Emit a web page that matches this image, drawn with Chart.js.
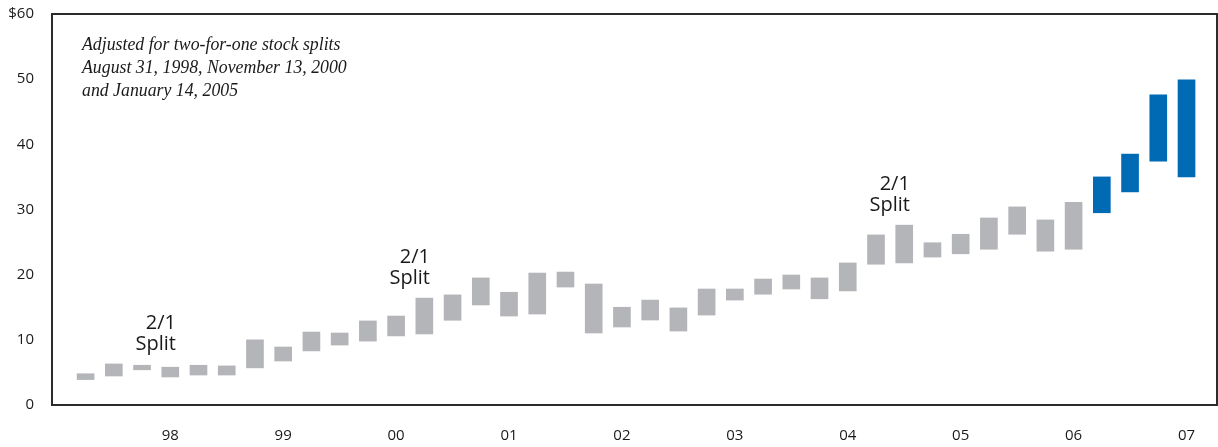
<!DOCTYPE html>
<html>
<head>
<meta charset="utf-8">
<script src="https://cdn.jsdelivr.net/npm/chart.js@4/dist/chart.umd.min.js"></script>
<style>
  html, body { margin: 0; padding: 0; background: #fff; }
  #wrap { width: 1218px; height: 447px; }
</style>
</head>
<body>
<div id="wrap"><canvas id="stock-chart"></canvas></div>
<script>
// Fiscal years, four quarterly price ranges each
const years = ['98', '99', '00', '01', '02', '03', '04', '05', '06', '07'];

// Quarterly low / high stock price ($)
const lows = [
    3.9, 4.45, 5.4, 4.3,
    4.6, 4.6, 5.7, 6.75,
    8.3, 9.2, 9.8, 10.6,
    10.9, 13.0, 15.35, 13.65,
    13.96, 18.1, 11.05, 11.97,
    13.04, 11.35, 13.8, 16.1,
    17.0, 17.8, 16.3, 17.5,
    21.6, 21.8, 22.7, 23.2,
    23.9, 26.2, 23.6, 23.9,
    29.5, 32.7, 37.4, 35.0
];
const highs = [
    4.8, 6.3, 6.1, 5.8,
    6.1, 6.0, 10.0, 8.9,
    11.2, 11.05, 12.9, 13.65,
    16.4, 16.9, 19.5, 17.3,
    20.25, 20.4, 18.57, 15.0,
    16.1, 14.9, 17.8, 17.8,
    19.33, 19.95, 19.5, 21.8,
    26.1, 27.6, 24.9, 26.2,
    28.7, 30.4, 28.4, 31.1,
    35.0, 38.5, 47.6, 49.9
];

const yTicks = [0, 10, 20, 30, 40, 50, 60];
const currentYear = '07';

// Split markers: quarter index and the price level of the "2/1" line
const splitQuarter = [3, 12, 29];
const splitLevel = [12.6, 22.7, 33.8];

const noteLines = [
    'Adjusted for two-for-one stock splits',
    'August 31, 1998, November 13, 2000',
    'and January 14, 2005'
];

const GRAY = '#b4b5b8';
const BLUE = '#006ab4';
const INK = '#1a1a1a';
const SANS = '"Open Sans", "Noto Sans", sans-serif';

const points = lows.map((lo, i) => ({ x: i, y: [lo, highs[i]] }));
const barColors = points.map((p, i) => years[Math.floor(i / 4)] === currentYear ? BLUE : GRAY);

// frame + notes drawn on top of the chart area
const decorations = {
    id: 'decorations',
    afterDatasetsDraw(chart) {
        const { ctx, chartArea, scales } = chart;
        ctx.save();

        ctx.strokeStyle = '#2b2b2b';
        ctx.lineWidth = 2;
        ctx.strokeRect(chartArea.left, chartArea.top, chartArea.right - chartArea.left, chartArea.bottom - chartArea.top);

        ctx.fillStyle = INK;
        ctx.font = 'italic 17.8px "Liberation Serif", "DejaVu Serif", serif';
        ctx.textAlign = 'left';
        ctx.textBaseline = 'middle';
        noteLines.forEach((line, k) => {
            ctx.fillText(line, chartArea.left + 30, chartArea.top + 31 + k * 23);
        });

        ctx.font = '20px ' + SANS;
        ctx.textAlign = 'right';
        splitQuarter.forEach((q, k) => {
            const x = scales.x.getPixelForValue(q + 0.2);
            const y = scales.y.getPixelForValue(splitLevel[k]);
            ctx.fillText('2/1', x, y);
            ctx.fillText('Split', x, y + 21);
        });

        ctx.restore();
    }
};

new Chart(document.getElementById('stock-chart'), {
    type: 'bar',
    data: {
        datasets: [{
            label: 'Stock price range',
            data: points,
            backgroundColor: barColors,
            borderWidth: 0,
            barThickness: 17
        }]
    },
    options: {
        responsive: true,
        maintainAspectRatio: false,
        animation: false,
        layout: { padding: { top: 14, right: 1, left: 0, bottom: 0 } },
        plugins: {
            legend: { display: false },
            tooltip: { enabled: false }
        },
        scales: {
            x: {
                type: 'linear',
                offset: false,
                min: -1.19,
                max: 40.08,
                grid: { display: false, drawTicks: false },
                border: { display: false },
                afterBuildTicks: (scale) => {
                    scale.ticks = years.map((_, k) => ({ value: 3 + 4 * k }));
                },
                afterFit: (scale) => {
                    scale.height = 42;
                    scale.paddingLeft = 0;
                    scale.paddingRight = 0;
                },
                ticks: {
                    autoSkip: false,
                    maxRotation: 0,
                    padding: 22,
                    color: INK,
                    font: { family: SANS, size: 15 },
                    callback: (value) => years[(value - 3) / 4]
                }
            },
            y: {
                min: 0,
                max: 60,
                grid: { display: false, drawTicks: false },
                border: { display: false },
                afterBuildTicks: (scale) => {
                    scale.ticks = yTicks.map(v => ({ value: v }));
                },
                afterFit: (scale) => {
                    scale.width = 52;
                    scale.paddingTop = 0;
                    scale.paddingBottom = 0;
                },
                ticks: {
                    padding: 18,
                    color: INK,
                    font: { family: SANS, size: 15 },
                    callback: (value) => value === 60 ? '$60' : value
                }
            }
        }
    },
    plugins: [decorations]
});
</script>
</body>
</html>
